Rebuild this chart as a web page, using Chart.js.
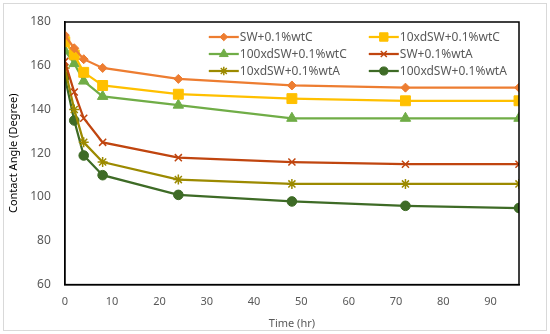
<!DOCTYPE html>
<html>
<head>
<meta charset="utf-8">
<script src="https://cdn.jsdelivr.net/npm/chart.js@4.4.1/dist/chart.umd.min.js"></script>
<style>
  html, body { margin: 0; padding: 0; background: #fff; }
  #wrap { width: 550px; height: 334px; position: relative; }
</style>
</head>
<body>
<div id="wrap"><canvas id="myChart" width="550" height="334"></canvas></div>
<script>
// time points (hr)
const timeHr = [0, 2, 4, 8, 24, 48, 72, 96];

// contact angles
const swC      = [174, 168, 163, 159, 154, 151, 150, 150];
const sw10C    = [171, 165, 157, 151, 147, 145, 144, 144];
const sw100C   = [167, 161, 153, 146, 142, 136, 136, 136];
const swA      = [162, 148, 136, 125, 118, 116, 115, 115];
const sw10A    = [159, 140, 125, 116, 108, 106, 106, 106];
const sw100A   = [155, 135, 119, 110, 101, 98, 96, 95];

const seriesNames = ['SW+0.1%wtC', '10xdSW+0.1%wtC', '100xdSW+0.1%wtC',
                     'SW+0.1%wtA', '10xdSW+0.1%wtA', '100xdSW+0.1%wtA'];
const xTicks = [0, 10, 20, 30, 40, 50, 60, 70, 80, 90];

const colors = ['#ED7D31', '#FFC000', '#70AD47', '#C0450F', '#9C8A00', '#3E6B26'];
const styles = ['rectRot', 'rect', 'triangle', 'crossRot', 'star', 'circle'];
const radii  = [4.5, 7, 6, 5, 5, 4.8];

const toPoints = vals => vals.map((v, i) => ({ x: timeHr[i], y: v }));
const allSeries = [swC, sw10C, sw100C, swA, sw10A, sw100A];

const datasets = allSeries.map((vals, i) => ({
  label: seriesNames[i],
  data: toPoints(vals),
  borderColor: colors[i],
  backgroundColor: colors[i],
  pointBorderColor: colors[i],
  pointBackgroundColor: colors[i],
  pointStyle: styles[i],
  pointRadius: radii[i],
  pointBorderWidth: (styles[i] === 'crossRot' || styles[i] === 'star') ? 1.5 : 1,
  borderWidth: 2.25,
  tension: 0
}));

const FONT = '"Noto Sans", "Open Sans", sans-serif';
const GREY = '#595959';

// frame, box and legend drawn inside the plot area
const decor = {
  id: 'decor',
  beforeDraw(chart) {
    const ctx = chart.ctx;
    ctx.save();
    ctx.fillStyle = '#fff';
    ctx.fillRect(0, 0, chart.width, chart.height);
    ctx.strokeStyle = '#D9D9D9';
    ctx.lineWidth = 1;
    ctx.strokeRect(3.5, 3.5, chart.width - 7, chart.height - 7);
    ctx.restore();
  },
  afterDraw(chart) {
    const ctx = chart.ctx;
    const a = chart.chartArea;
    ctx.save();
    ctx.strokeStyle = '#000';
    ctx.lineWidth = 1.5;
    ctx.strokeRect(a.left, a.top, a.right - a.left, a.bottom - a.top);

    ctx.font = '12px ' + FONT;
    ctx.textBaseline = 'middle';
    const cols = [a.left + 144, a.left + 304];
    const rows = [a.top + 15, a.top + 32, a.top + 49];
    chart.data.datasets.forEach((ds, i) => {
      const x = cols[i % 2], y = rows[Math.floor(i / 2)];
      ctx.strokeStyle = ds.borderColor;
      ctx.fillStyle = ds.borderColor;
      ctx.lineWidth = 2.25;
      ctx.beginPath();
      ctx.moveTo(x, y);
      ctx.lineTo(x + 30, y);
      ctx.stroke();
      ctx.lineWidth = ds.pointBorderWidth;
      Chart.helpers.drawPoint(ctx, {
        pointStyle: ds.pointStyle, radius: ds.pointRadius * 0.85,
        rotation: 0, borderWidth: ds.pointBorderWidth
      }, x + 15, y);
      ctx.fillStyle = GREY;
      ctx.fillText(ds.label, x + 31, y + 0.5);
    });
    ctx.restore();
  }
};

const ctx = document.getElementById('myChart').getContext('2d');
const chart = new Chart(ctx, {
  type: 'line',
  data: { datasets: datasets },
  plugins: [decor],
  options: {
    responsive: false,
    animation: false,
    layout: { padding: { top: 22, right: 31, left: 3, bottom: 0 } },
    plugins: { legend: { display: false }, tooltip: { enabled: false } },
    scales: {
      x: {
        type: 'linear',
        min: 0,
        max: 96,
        afterBuildTicks: scale => { scale.ticks = xTicks.map(v => ({ value: v })); },
        grid: { display: false, drawTicks: true, tickLength: 4 },
        border: { display: true, color: '#000', width: 1.5 },
        ticks: { color: GREY, font: { family: FONT, size: 11 }, padding: 7 },
        title: { display: true, text: 'Time (hr)', color: GREY, font: { family: FONT, size: 11 }, padding: { top: 1 } }
      },
      y: {
        min: 60,
        max: 180,
        ticks: { stepSize: 20, color: GREY, font: { family: FONT, size: 12 }, padding: 6 },
        grid: { display: false },
        border: { display: true, color: '#000', width: 1.5 },
        title: { display: true, text: 'Contact Angle (Degree)', color: '#000', font: { family: FONT, size: 11 }, padding: { bottom: 4 } }
      }
    }
  }
});
</script>
</body>
</html>
